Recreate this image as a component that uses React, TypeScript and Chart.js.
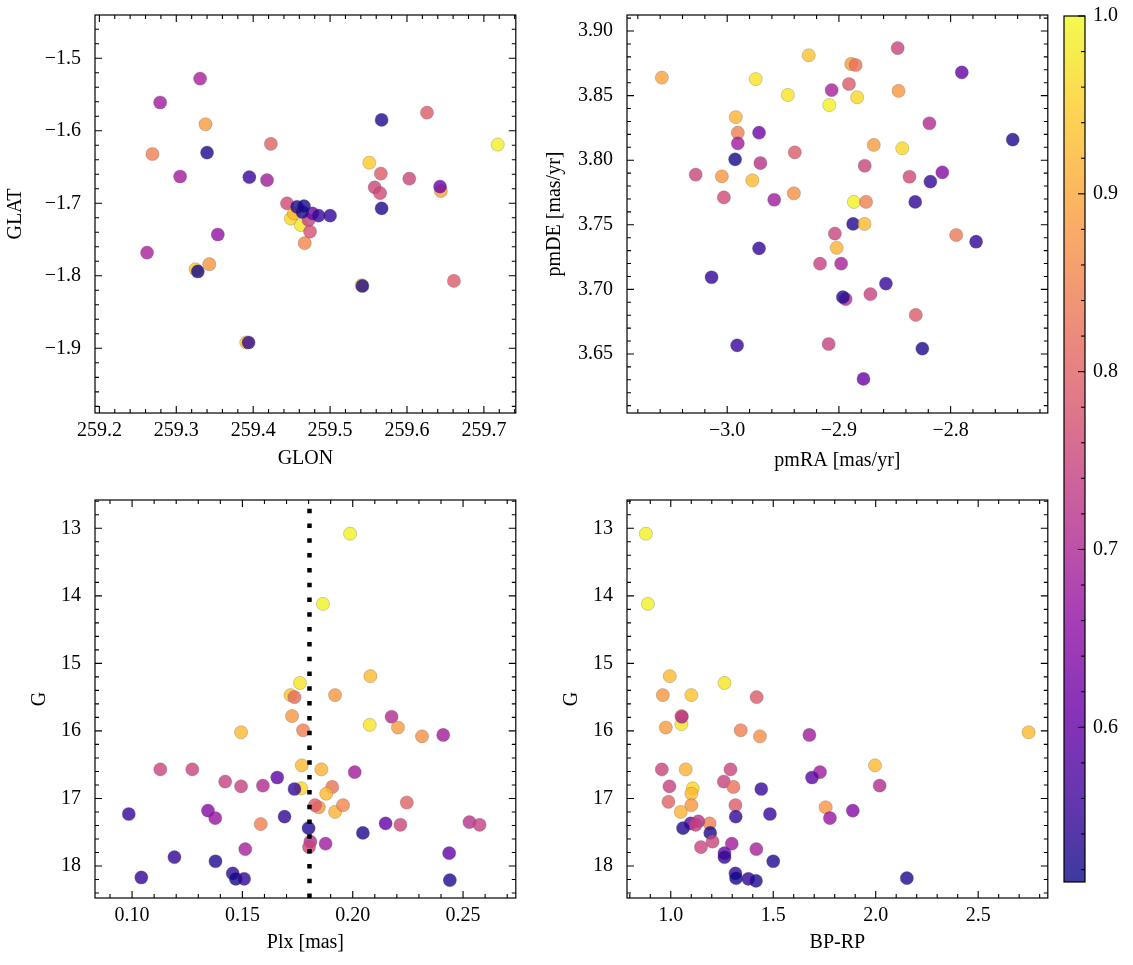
import React, { useEffect, useRef } from "react";
import { Chart, registerables } from "chart.js";

Chart.register(...registerables);

// ---------------- data ----------------
// Panel A: GLON / GLAT
const GLON = [259.331, 259.279, 259.338, 259.269, 259.340, 259.305, 259.395, 259.418, 259.423, 259.567, 259.626, 259.718, 259.551, 259.566, 259.603, 259.558, 259.565, 259.644, 259.643, 259.567, 259.444, 259.449, 259.453, 259.462, 259.467, 259.474, 259.472, 259.477, 259.485, 259.500, 259.457, 259.464, 259.466, 259.354, 259.262, 259.325, 259.328, 259.343, 259.541, 259.542, 259.661, 259.391, 259.394];
const GLAT = [-1.528, -1.561, -1.591, -1.632, -1.630, -1.663, -1.664, -1.668, -1.618, -1.585, -1.575, -1.619, -1.644, -1.659, -1.666, -1.678, -1.686, -1.683, -1.677, -1.707, -1.700, -1.721, -1.714, -1.730, -1.755, -1.739, -1.723, -1.714, -1.717, -1.717, -1.705, -1.712, -1.704, -1.743, -1.768, -1.791, -1.794, -1.784, -1.813, -1.814, -1.807, -1.892, -1.892];
const PROB_A = [0.69, 0.68, 0.885, 0.845, 0.525, 0.68, 0.55, 0.68, 0.80, 0.53, 0.79, 0.99, 0.945, 0.79, 0.75, 0.75, 0.76, 0.895, 0.61, 0.525, 0.76, 0.96, 0.925, 0.975, 0.855, 0.77, 0.745, 0.62, 0.55, 0.545, 0.525, 0.53, 0.52, 0.66, 0.69, 0.935, 0.515, 0.88, 0.955, 0.525, 0.79, 0.945, 0.545];

// Panel B: pmRA / pmDE
const PMRA = [-3.0585, -2.9745, -2.927, -2.9457, -2.9086, -2.9065, -2.891, -2.889, -2.885, -2.8837, -2.8474, -2.8466, -2.790, -2.819, -2.7444, -2.9923, -2.9905, -2.9905, -2.9715, -2.9929, -2.9703, -2.9395, -3.0282, -3.0048, -2.9775, -3.003, -2.9579, -2.9403, -2.8688, -2.8433, -2.8769, -2.8368, -2.8074, -2.8181, -2.8317, -2.8866, -2.8757, -2.8873, -2.8771, -2.9036, -2.902, -2.795, -2.7772, -2.9715, -2.9169, -2.898, -3.014, -2.8579, -2.894, -2.8964, -2.8718, -2.8312, -2.9911, -2.9092, -2.8253, -2.878];
const PMDE = [3.8639, 3.8628, 3.8812, 3.8505, 3.8427, 3.8543, 3.859, 3.8745, 3.8737, 3.8487, 3.8868, 3.8536, 3.868, 3.8286, 3.8159, 3.8334, 3.8213, 3.813, 3.8213, 3.8007, 3.7978, 3.8061, 3.7888, 3.7875, 3.7844, 3.7712, 3.7694, 3.7744, 3.8118, 3.8092, 3.7957, 3.7872, 3.7906, 3.7834, 3.7677, 3.7677, 3.7677, 3.7507, 3.7507, 3.7432, 3.7322, 3.7421, 3.7369, 3.7318, 3.7199, 3.7199, 3.7094, 3.7045, 3.6925, 3.694, 3.6963, 3.6802, 3.6567, 3.6577, 3.6541, 3.6307];
const PROB_B = [0.895, 0.975, 0.935, 0.975, 0.99, 0.69, 0.79, 0.885, 0.825, 0.96, 0.75, 0.88, 0.60, 0.71, 0.525, 0.915, 0.845, 0.68, 0.62, 0.52, 0.72, 0.79, 0.75, 0.88, 0.925, 0.76, 0.68, 0.87, 0.885, 0.96, 0.75, 0.76, 0.645, 0.55, 0.545, 0.99, 0.845, 0.53, 0.925, 0.75, 0.915, 0.835, 0.545, 0.545, 0.745, 0.69, 0.545, 0.55, 0.71, 0.53, 0.745, 0.79, 0.55, 0.745, 0.525, 0.61];

// Panel C: Plx / G
const PLX = [0.1988, 0.1865, 0.1761, 0.2080, 0.1718, 0.1736, 0.1920, 0.1725, 0.1775, 0.2176, 0.2077, 0.2205, 0.2314, 0.2410, 0.1494, 0.1128, 0.1273, 0.1769, 0.1858, 0.2009, 0.1658, 0.1422, 0.1494, 0.1593, 0.1767, 0.1736, 0.1907, 0.1880, 0.2245, 0.1846, 0.1829, 0.1920, 0.1956, 0.0985, 0.1344, 0.1377, 0.1691, 0.1583, 0.2149, 0.2216, 0.2529, 0.2575, 0.1800, 0.2046, 0.1808, 0.1802, 0.1877, 0.1513, 0.2437, 0.1192, 0.1378, 0.1456, 0.1470, 0.1508, 0.1042, 0.2440];
const G_PLX = [13.08, 14.12, 15.29, 15.19, 15.47, 15.50, 15.47, 15.78, 15.99, 15.79, 15.91, 15.95, 16.08, 16.06, 16.02, 16.57, 16.57, 16.51, 16.57, 16.61, 16.69, 16.75, 16.82, 16.81, 16.85, 16.86, 16.83, 16.93, 17.06, 17.13, 17.10, 17.20, 17.10, 17.23, 17.18, 17.29, 17.27, 17.38, 17.37, 17.39, 17.35, 17.39, 17.44, 17.51, 17.64, 17.72, 17.67, 17.75, 17.81, 17.87, 17.93, 18.11, 18.19, 18.19, 18.17, 18.21];
const PROB_C = [0.99, 0.99, 0.975, 0.925, 0.935, 0.815, 0.88, 0.88, 0.845, 0.71, 0.975, 0.885, 0.87, 0.68, 0.925, 0.75, 0.75, 0.925, 0.915, 0.68, 0.59, 0.745, 0.745, 0.71, 0.96, 0.55, 0.825, 0.925, 0.80, 0.88, 0.79, 0.915, 0.855, 0.55, 0.645, 0.67, 0.545, 0.845, 0.60, 0.75, 0.72, 0.745, 0.53, 0.525, 0.71, 0.75, 0.68, 0.69, 0.60, 0.545, 0.53, 0.545, 0.515, 0.545, 0.545, 0.53];
const PLX_CUT = 0.1804;

// Panel D: BP-RP / G
const BPRP = [0.8786, 0.8883, 0.9951, 1.2621, 0.9612, 1.1004, 1.419, 1.0518, 1.052, 1.054, 0.9757, 1.3414, 1.4353, 1.6764, 2.7461, 0.9563, 1.0728, 1.2913, 1.9966, 1.7282, 1.6893, 1.2589, 0.9935, 1.3058, 1.1068, 2.0194, 1.4417, 1.1004, 0.9887, 1.3155, 1.1004, 1.0485, 1.7557, 1.8883, 1.7767, 1.3171, 1.4838, 1.1893, 1.0971, 1.1344, 1.1214, 1.0599, 1.1926, 1.2039, 1.2977, 1.1473, 1.4175, 1.2621, 1.2621, 1.5000, 1.3155, 1.3188, 1.3786, 1.4159, 2.1521];
const G_BPRP = [13.08, 14.12, 15.19, 15.29, 15.47, 15.47, 15.50, 15.90, 15.78, 15.79, 15.95, 15.99, 16.08, 16.06, 16.02, 16.57, 16.57, 16.57, 16.51, 16.61, 16.69, 16.75, 16.82, 16.83, 16.85, 16.81, 16.86, 16.93, 17.05, 17.10, 17.10, 17.20, 17.13, 17.18, 17.29, 17.27, 17.23, 17.37, 17.37, 17.34, 17.39, 17.44, 17.51, 17.64, 17.67, 17.72, 17.75, 17.81, 17.87, 17.93, 18.11, 18.18, 18.19, 18.22, 18.18];
const PROB_D = [0.99, 0.99, 0.925, 0.975, 0.88, 0.935, 0.79, 0.975, 0.88, 0.71, 0.885, 0.845, 0.87, 0.68, 0.925, 0.75, 0.915, 0.75, 0.925, 0.68, 0.59, 0.745, 0.745, 0.825, 0.96, 0.71, 0.55, 0.925, 0.80, 0.79, 0.88, 0.915, 0.88, 0.645, 0.67, 0.545, 0.55, 0.845, 0.60, 0.72, 0.745, 0.53, 0.525, 0.75, 0.68, 0.75, 0.69, 0.60, 0.545, 0.53, 0.545, 0.515, 0.545, 0.53, 0.525];

// ticks
const GLON_TICKS = [259.2, 259.3, 259.4, 259.5, 259.6, 259.7];
const GLON_LABELS = ["259.2", "259.3", "259.4", "259.5", "259.6", "259.7"];
const GLAT_TICKS = [-1.9, -1.8, -1.7, -1.6, -1.5];
const GLAT_LABELS = ["\u22121.9", "\u22121.8", "\u22121.7", "\u22121.6", "\u22121.5"];
const PMRA_TICKS = [-3.0, -2.9, -2.8];
const PMRA_LABELS = ["\u22123.0", "\u22122.9", "\u22122.8"];
const PMDE_TICKS = [3.65, 3.7, 3.75, 3.8, 3.85, 3.9];
const PMDE_LABELS = ["3.65", "3.70", "3.75", "3.80", "3.85", "3.90"];
const PLX_TICKS = [0.1, 0.15, 0.2, 0.25];
const PLX_LABELS = ["0.10", "0.15", "0.20", "0.25"];
const G_TICKS = [13, 14, 15, 16, 17, 18];
const G_LABELS = ["13", "14", "15", "16", "17", "18"];
const BPRP_TICKS = [1.0, 1.5, 2.0, 2.5];
const BPRP_LABELS = ["1.0", "1.5", "2.0", "2.5"];
const CBAR_TICKS = [0.6, 0.7, 0.8, 0.9, 1.0];
const CBAR_LABELS = ["0.6", "0.7", "0.8", "0.9", "1.0"];

const C_MIN = 0.513;
const C_MAX = 1.0;

// matplotlib "plasma" anchors
const PLASMA = ["#0d0887", "#41049d", "#6a00a8", "#8f0da4", "#b12a90", "#cc4778", "#e16462", "#f2844b", "#fca636", "#fcce25", "#f0f921"];

// ---------------- helpers ----------------
const FONT_FAMILY = "'Liberation Serif', 'Times New Roman', serif";
const FONT = { family: FONT_FAMILY, size: 20, lineHeight: 1.2 };
const ALPHA = 0.8;

function hexToRgb(h: string) {
  const n = parseInt(h.slice(1), 16);
  return [(n >> 16) & 255, (n >> 8) & 255, n & 255];
}
const PLASMA_RGB = PLASMA.map(hexToRgb);

function plasmaT(t: number, alpha: number) {
  const tt = Math.max(0, Math.min(1, t)) * (PLASMA_RGB.length - 1);
  const i = Math.min(PLASMA_RGB.length - 2, Math.floor(tt));
  const f = tt - i;
  const a = PLASMA_RGB[i];
  const b = PLASMA_RGB[i + 1];
  const r = Math.round(a[0] + (b[0] - a[0]) * f);
  const g = Math.round(a[1] + (b[1] - a[1]) * f);
  const bl = Math.round(a[2] + (b[2] - a[2]) * f);
  return `rgba(${r},${g},${bl},${alpha})`;
}
function colorFor(c: number) {
  return plasmaT((c - C_MIN) / (C_MAX - C_MIN), ALPHA);
}

type TickSpec = { majors: number[]; minorStep: number };

function tickPlugin(xs: TickSpec | null, ys: TickSpec | null, rightOnly = false) {
  return {
    id: "inwardTicks",
    afterDatasetsDraw(chart: any) {
      const { ctx, chartArea: a } = chart;
      ctx.save();
      ctx.strokeStyle = "#000";
      ctx.lineWidth = 1.1;
      const build = (scale: any, spec: TickSpec) => {
        const lo = Math.min(scale.min, scale.max);
        const hi = Math.max(scale.min, scale.max);
        const out: { v: number; major: boolean }[] = [];
        const k0 = Math.ceil(lo / spec.minorStep - 1e-6);
        const k1 = Math.floor(hi / spec.minorStep + 1e-6);
        for (let k = k0; k <= k1; k++) {
          const v = k * spec.minorStep;
          const major = spec.majors.some((m) => Math.abs(m - v) < spec.minorStep * 1e-3);
          out.push({ v, major });
        }
        return out;
      };
      if (xs) {
        const sc = chart.scales.x;
        for (const t of build(sc, xs)) {
          const p = sc.getPixelForValue(t.v);
          const len = t.major ? 7 : 4;
          ctx.beginPath();
          ctx.moveTo(p, a.bottom);
          ctx.lineTo(p, a.bottom - len);
          ctx.moveTo(p, a.top);
          ctx.lineTo(p, a.top + len);
          ctx.stroke();
        }
      }
      if (ys) {
        const sc = chart.scales.y;
        for (const t of build(sc, ys)) {
          const p = sc.getPixelForValue(t.v);
          const len = t.major ? 7 : 4;
          ctx.beginPath();
          if (!rightOnly) {
            ctx.moveTo(a.left, p);
            ctx.lineTo(a.left + len, p);
          }
          ctx.moveTo(a.right, p);
          ctx.lineTo(a.right - len, p);
          ctx.stroke();
        }
      }
      ctx.lineWidth = 1.2;
      ctx.strokeRect(a.left, a.top, a.right - a.left, a.bottom - a.top);
      ctx.restore();
    },
  };
}

type PanelSpec = {
  xs: number[];
  ys: number[];
  cs: number[];
  xMin: number;
  xMax: number;
  yMin: number;
  yMax: number;
  xTicks: number[];
  xLabels: string[];
  yTicks: number[];
  yLabels: string[];
  xMinor: number;
  yMinor: number;
  xTitle: string;
  yTitle: string;
  yReverse: boolean;
  yAxisWidth: number;
  yTitleTop: number;
  xTitleBottom: number;
  vline?: number;
};

function panelConfig(p: PanelSpec): any {
  const datasets: any[] = [];
  if (p.vline !== undefined) {
    datasets.push({
      type: "line",
      data: [
        { x: p.vline, y: p.yMax },
        { x: p.vline, y: p.yMin },
      ],
      borderColor: "#000",
      borderWidth: 4.5,
      borderDash: [4.5, 10.3],
      borderCapStyle: "butt",
      pointRadius: 0,
      order: 0,
    });
  }
  datasets.push({
    type: "scatter",
    data: p.xs.map((x, i) => ({ x, y: p.ys[i] })),
    backgroundColor: p.cs.map(colorFor),
    borderColor: "rgba(90,90,90,0.45)",
    borderWidth: 0.6,
    pointRadius: 6.6,
    order: 1,
  });
  return {
    type: "scatter",
    data: { datasets },
    options: {
      responsive: false,
      animation: false,
      events: [],
      layout: { padding: { left: 0, right: 5, top: 15, bottom: 0 } },
      plugins: { legend: { display: false }, tooltip: { enabled: false } },
      scales: {
        x: {
          type: "linear",
          position: "bottom",
          min: p.xMin,
          max: p.xMax,
          grid: { display: false, drawTicks: false },
          border: { display: false },
          afterBuildTicks: (s: any) => {
            s.ticks = p.xTicks.map((v) => ({ value: v }));
          },
          afterFit: (s: any) => {
            s.height = 67;
            s.paddingLeft = 0;
            s.paddingRight = 0;
          },
          ticks: {
            padding: 6,
            color: "#000",
            font: FONT,
            autoSkip: false,
            maxRotation: 0,
            minRotation: 0,
            callback: (_v: any, i: number) => p.xLabels[i],
          },
          title: { display: true, text: p.xTitle, color: "#000", font: FONT, padding: { top: 0, bottom: p.xTitleBottom } },
        },
        y: {
          type: "linear",
          position: "left",
          min: p.yMin,
          max: p.yMax,
          reverse: p.yReverse,
          grid: { display: false, drawTicks: false },
          border: { display: false },
          afterBuildTicks: (s: any) => {
            s.ticks = p.yTicks.map((v) => ({ value: v }));
          },
          afterFit: (s: any) => {
            s.width = p.yAxisWidth;
            s.paddingTop = 0;
            s.paddingBottom = 0;
          },
          ticks: {
            padding: 14,
            color: "#000",
            font: FONT,
            autoSkip: false,
            callback: (_v: any, i: number) => p.yLabels[i],
          },
          title: { display: true, text: p.yTitle, color: "#000", font: FONT, padding: { top: p.yTitleTop, bottom: 0 } },
        },
      },
    },
    plugins: [tickPlugin({ majors: p.xTicks, minorStep: p.xMinor }, { majors: p.yTicks, minorStep: p.yMinor })],
  };
}

function colorbarConfig(): any {
  const gradientPlugin = {
    id: "cbarFill",
    beforeDatasetsDraw(chart: any) {
      const { ctx, chartArea: a } = chart;
      const sc = chart.scales.y;
      const y0 = sc.getPixelForValue(C_MIN);
      const y1 = sc.getPixelForValue(C_MAX);
      const g = ctx.createLinearGradient(0, y0, 0, y1);
      const n = 40;
      for (let i = 0; i <= n; i++) g.addColorStop(i / n, plasmaT(i / n, ALPHA));
      ctx.save();
      ctx.fillStyle = g;
      ctx.fillRect(a.left, a.top, a.right - a.left, a.bottom - a.top);
      ctx.restore();
    },
  };
  return {
    type: "scatter",
    data: { datasets: [] },
    options: {
      responsive: false,
      animation: false,
      events: [],
      layout: { padding: { left: 9, right: 0, top: 16, bottom: 83 } },
      plugins: { legend: { display: false }, tooltip: { enabled: false } },
      scales: {
        x: { type: "linear", display: false, min: 0, max: 1 },
        y: {
          type: "linear",
          position: "right",
          min: C_MIN,
          max: C_MAX,
          grid: { display: false, drawTicks: false },
          border: { display: false },
          afterBuildTicks: (s: any) => {
            s.ticks = CBAR_TICKS.map((v) => ({ value: v }));
          },
          afterFit: (s: any) => {
            s.width = 48;
            s.paddingTop = 0;
            s.paddingBottom = 0;
          },
          ticks: {
            padding: 8,
            color: "#000",
            font: FONT,
            autoSkip: false,
            callback: (_v: any, i: number) => CBAR_LABELS[i],
          },
        },
      },
    },
    plugins: [gradientPlugin, tickPlugin(null, { majors: CBAR_TICKS, minorStep: 0.02 }, true)],
  };
}

function ChartCanvas(props: { left: number; top: number; width: number; height: number; make: () => any }) {
  const ref = useRef<HTMLCanvasElement | null>(null);
  useEffect(() => {
    if (!ref.current) return;
    const chart = new Chart(ref.current, props.make());
    return () => chart.destroy();
  }, []);
  return (
    <canvas
      ref={ref}
      width={props.width}
      height={props.height}
      style={{ position: "absolute", left: props.left, top: props.top, width: props.width, height: props.height }}
    />
  );
}

const panelA: PanelSpec = {
  xs: GLON, ys: GLAT, cs: PROB_A,
  xMin: 259.1943, xMax: 259.7415, yMin: -1.9892, yMax: -1.4403,
  xTicks: GLON_TICKS, xLabels: GLON_LABELS, yTicks: GLAT_TICKS, yLabels: GLAT_LABELS,
  xMinor: 0.02, yMinor: 0.02,
  xTitle: "GLON", yTitle: "GLAT", yReverse: false,
  yAxisWidth: 95, yTitleTop: 4, xTitleBottom: 9,
};
const panelB: PanelSpec = {
  xs: PMRA, ys: PMDE, cs: PROB_B,
  xMin: -3.0897, xMax: -2.713, yMin: 3.6043, yMax: 3.9124,
  xTicks: PMRA_TICKS, xLabels: PMRA_LABELS, yTicks: PMDE_TICKS, yLabels: PMDE_LABELS,
  xMinor: 0.02, yMinor: 0.01,
  xTitle: "pmRA [mas/yr]", yTitle: "pmDE [mas/yr]", yReverse: false,
  yAxisWidth: 97, yTitleTop: 13, xTitleBottom: 7,
};
const panelC: PanelSpec = {
  xs: PLX, ys: G_PLX, cs: PROB_C,
  xMin: 0.0832, xMax: 0.2739, yMin: 12.581, yMax: 18.474,
  xTicks: PLX_TICKS, xLabels: PLX_LABELS, yTicks: G_TICKS, yLabels: G_LABELS,
  xMinor: 0.01, yMinor: 0.2,
  xTitle: "Plx [mas]", yTitle: "G", yReverse: true,
  yAxisWidth: 95, yTitleTop: 28, xTitleBottom: 10,
  vline: PLX_CUT,
};
const panelD: PanelSpec = {
  xs: BPRP, ys: G_BPRP, cs: PROB_D,
  xMin: 0.7864, xMax: 2.8398, yMin: 12.581, yMax: 18.474,
  xTicks: BPRP_TICKS, xLabels: BPRP_LABELS, yTicks: G_TICKS, yLabels: G_LABELS,
  xMinor: 0.1, yMinor: 0.2,
  xTitle: "BP-RP", yTitle: "G", yReverse: true,
  yAxisWidth: 97, yTitleTop: 30, xTitleBottom: 10,
};

export default function App() {
  return (
    <div style={{ position: "absolute", left: 0, top: 0, width: 1133, height: 965, background: "#fff" }}>
      <ChartCanvas left={0} top={0} width={523} height={480} make={() => panelConfig(panelA)} />
      <ChartCanvas left={530} top={0} width={525} height={480} make={() => panelConfig(panelB)} />
      <ChartCanvas left={0} top={485} width={523} height={480} make={() => panelConfig(panelC)} />
      <ChartCanvas left={530} top={485} width={525} height={480} make={() => panelConfig(panelD)} />
      <ChartCanvas left={1055} top={0} width={78} height={965} make={colorbarConfig} />
    </div>
  );
}
